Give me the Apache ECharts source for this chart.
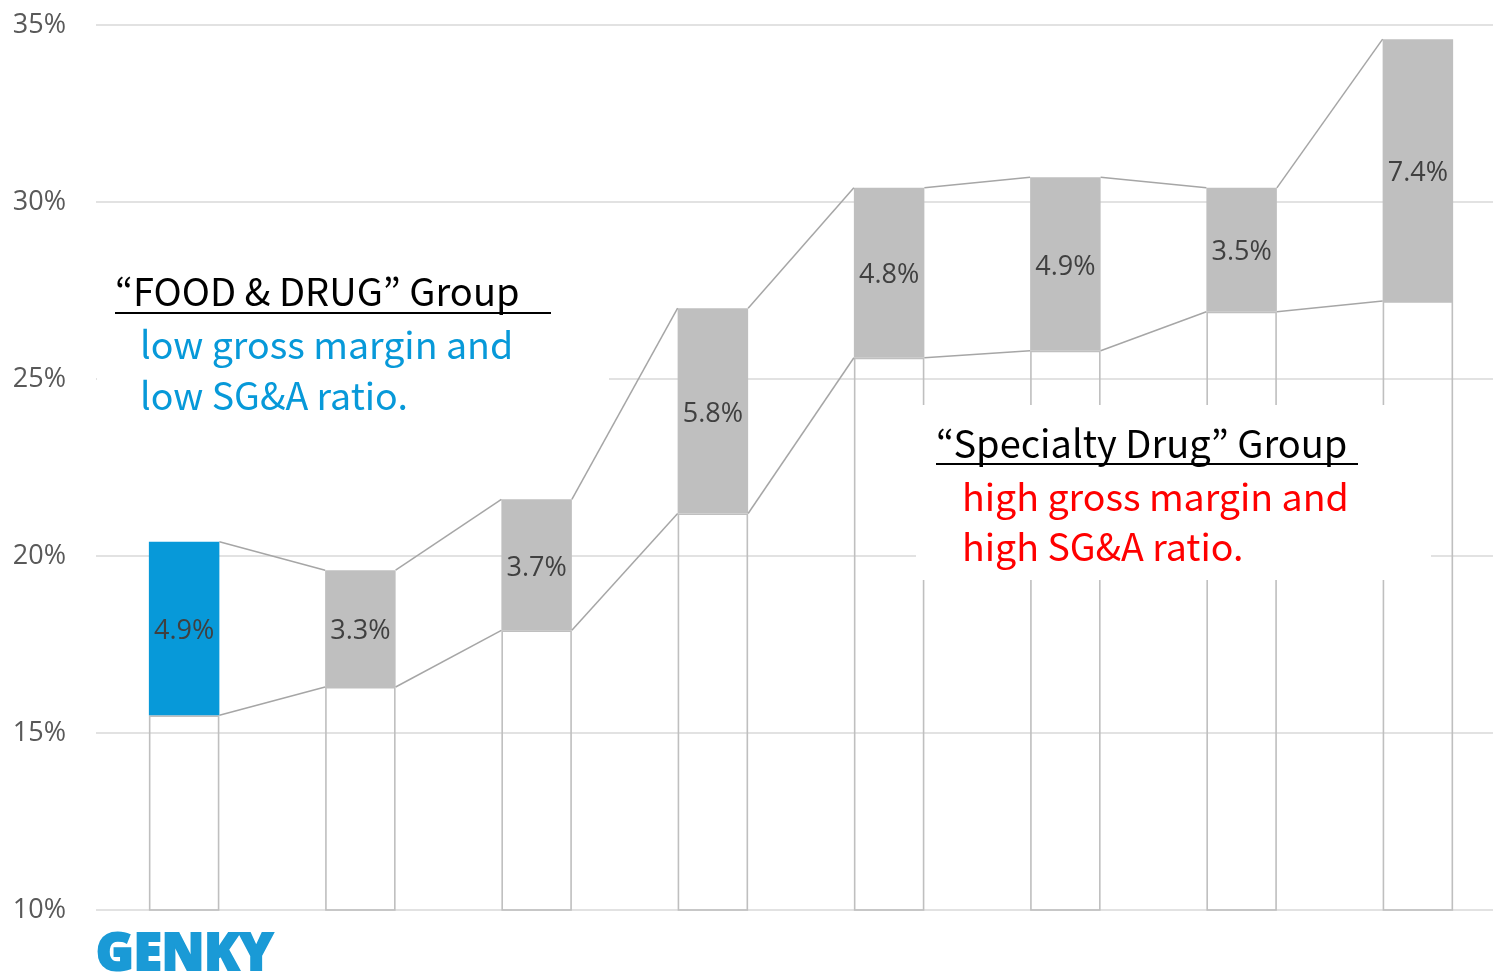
<!DOCTYPE html>
<html>
<head>
<meta charset="utf-8">
<script src="https://cdn.jsdelivr.net/npm/echarts@6/dist/echarts.min.js"></script>
<style>
html,body{margin:0;padding:0;background:#fff;}
#chart{width:1493px;height:972px;}
</style>
</head>
<body>
<div id="chart"></div>
<script>
// Data
const categories = ['A', 'B', 'C', 'D', 'E', 'F', 'G', 'H'];
const sgaRatio = [15.5, 16.3, 17.9, 21.2, 25.6, 25.8, 26.9, 27.2];       // bottom of coloured bar (%)
const operatingMargin = [4.9, 3.3, 3.7, 5.8, 4.8, 4.9, 3.5, 7.4];        // coloured bar height (%)
const yTicks = [10, 15, 20, 25, 30, 35];

const grossMargin = sgaRatio.map((v, i) => +(v + operatingMargin[i]).toFixed(2));
const topLinks = [];
const bottomLinks = [];
for (let i = 0; i < categories.length - 1; i++) {
  topLinks.push([i, grossMargin[i], grossMargin[i + 1]]);
  bottomLinks.push([i, sgaRatio[i], sgaRatio[i + 1]]);
}

const chart = echarts.init(document.getElementById('chart'), null, {renderer: 'canvas'});

function linkRender(params, api) {
  const i = api.value(0);
  const p0 = api.coord([i, api.value(1)]);
  const p1 = api.coord([i + 1, api.value(2)]);
  const half = api.size([1, 0])[0] * 0.2;
  return {
    type: 'line',
    shape: {x1: p0[0] + half, y1: p0[1], x2: p1[0] - half, y2: p1[1]},
    style: {stroke: '#a6a6a6', lineWidth: 1.5}
  };
}

const textFont = '"Noto Sans CJK JP", "Noto Sans", sans-serif';

chart.setOption({
  animation: false,
  backgroundColor: '#ffffff',
  grid: {left: 96, top: 25, bottom: 62, width: 1410, containLabel: false, outerBoundsMode: 'none'},
  xAxis: {
    type: 'category',
    data: categories,
    axisLine: {show: false},
    axisTick: {show: false},
    axisLabel: {show: false},
    splitLine: {show: false}
  },
  yAxis: {
    type: 'value',
    min: yTicks[0],
    max: yTicks[yTicks.length - 1],
    interval: 5,
    axisLine: {show: false},
    axisTick: {show: false},
    axisLabel: {
      formatter: '{value}%',
      color: '#595959',
      fontSize: 27,
      fontFamily: '"Open Sans", sans-serif',
      margin: 30
    },
    splitLine: {lineStyle: {color: '#d9d9d9', width: 1.5}}
  },
  series: [
    {
      type: 'bar',
      stack: 's',
      barWidth: '40%',
      data: sgaRatio,
      itemStyle: {color: 'rgba(255,255,255,0)', borderColor: '#bfbfbf', borderWidth: 1.6},
      silent: true
    },
    {
      type: 'bar',
      stack: 's',
      barWidth: '40%',
      data: operatingMargin,
      itemStyle: {
        color: (p) => p.dataIndex === 0 ? '#0799d9' : '#bfbfbf'
      },
      label: {
        show: true,
        position: 'inside',
        offset: [0, 3],
        formatter: (p) => p.value.toFixed(1) + '%',
        color: '#404040',
        fontSize: 27,
        fontFamily: '"Open Sans", sans-serif'
      }
    },
    {
      type: 'custom',
      renderItem: linkRender,
      data: topLinks,
      encode: {x: 0, y: [1, 2]},
      z: 3,
      silent: true
    },
    {
      type: 'custom',
      renderItem: linkRender,
      data: bottomLinks,
      encode: {x: 0, y: [1, 2]},
      z: 3,
      silent: true
    }
  ],
  graphic: [
    {type: 'rect', z: 100, shape: {x: 97, y: 262, width: 512, height: 158}, style: {fill: '#fff'}},
    {type: 'text', z: 101, left: 115, top: 273, style: {text: '“FOOD & DRUG” Group', fill: '#000', font: '38px ' + textFont}},
    {type: 'line', z: 101, shape: {x1: 115, y1: 313, x2: 551, y2: 313}, style: {stroke: '#000', lineWidth: 2}},
    {type: 'text', z: 101, left: 140, top: 326, style: {text: 'low gross margin and', fill: '#0799d9', font: '37.5px ' + textFont}},
    {type: 'text', z: 101, left: 140, top: 377, style: {text: 'low SG&A ratio.', fill: '#0799d9', font: '37.5px ' + textFont}},

    {type: 'rect', z: 100, shape: {x: 916, y: 405, width: 515, height: 175}, style: {fill: '#fff'}},
    {type: 'text', z: 101, left: 936, top: 425, style: {text: '“Specialty Drug” Group', fill: '#000', font: '38px ' + textFont}},
    {type: 'line', z: 101, shape: {x1: 936, y1: 464, x2: 1358, y2: 464}, style: {stroke: '#000', lineWidth: 2}},
    {type: 'text', z: 101, left: 962, top: 478, style: {text: 'high gross margin and', fill: '#ff0000', font: '37.5px ' + textFont}},
    {type: 'text', z: 101, left: 962, top: 528, style: {text: 'high SG&A ratio.', fill: '#ff0000', font: '37.5px ' + textFont}},

    {type: 'text', z: 101, left: 95, top: 929, style: {text: 'GENKY', fill: '#1a9ad6', stroke: '#1a9ad6', lineWidth: 2, font: '900 51px "Noto Sans", "DejaVu Sans", sans-serif'}}
  ]
});
</script>
</body>
</html>
